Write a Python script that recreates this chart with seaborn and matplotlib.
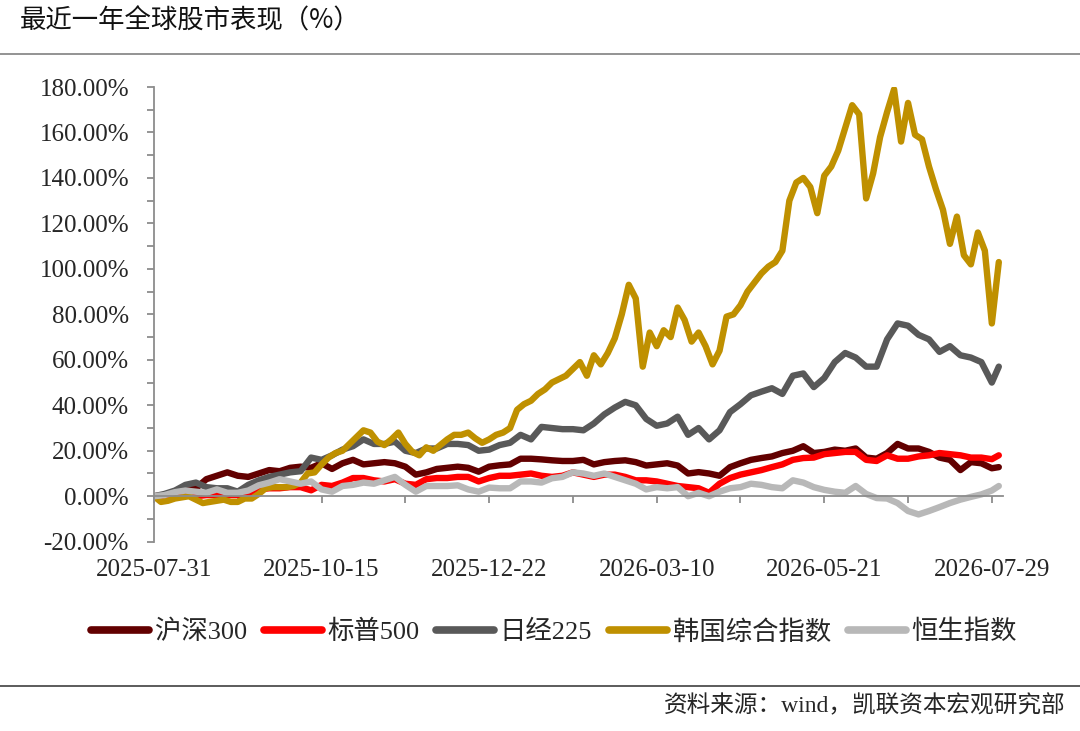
import numpy as np
import pandas as pd
import matplotlib
matplotlib.use("Agg")
import matplotlib.pyplot as plt
from matplotlib.lines import Line2D
from matplotlib.ticker import MultipleLocator, FuncFormatter
import seaborn as sns

# trading-day index of each sampled point
idx_step3 = list(range(0, 241, 3)) + [242]
idx_step2 = list(range(0, 243, 2))

date_labels = ["2025-07-31", "2025-10-15", "2025-12-22",
               "2026-03-10", "2026-05-21", "2026-07-29"]
date_label_pos = [0, 48, 96, 144, 192, 240]

series_names = ["沪深300", "标普500", "日经225", "韩国综合指数", "恒生指数"]
series_colors = ["#620000", "#FF0000", "#595959", "#BF9000", "#B8B8B8"]

hs300 = [0, 0.5, 1.5, 3, 3.5, 7.5, 9, 10.5, 9, 8.5,
         10, 11.5, 11, 12.5, 13, 12.5, 14.5, 12, 14.5, 16,
         14, 14.5, 15, 14.5, 13, 9.5, 10.5, 12, 12.5, 13,
         12.5, 10.8, 13, 13.6, 14, 16.5, 16.5, 16.2, 15.8, 15.5,
         15.5, 16, 14, 15, 15.5, 15.8, 15, 13.5, 14, 14.5,
         13.5, 10, 10.6, 10, 9, 12.8, 14.5, 16, 16.8, 17.5,
         19, 20, 22, 19, 19.5, 20.5, 20, 21, 17, 16.5,
         19, 23, 21, 21, 19.5, 17, 16, 11.5, 15, 14.5,
         12.3, 12.8]

spx500 = [0, -0.5, 0, 0.5, 0, 0.5, 0.5, 0.5, 0.5, 1,
          3, 3.5, 3.5, 4, 4, 2.6, 5, 4.5, 6, 8,
          8, 7, 6.5, 7.5, 5.5, 5, 7.5, 8, 8, 8.5,
          8.5, 6.5, 8, 9, 9, 9.5, 10, 9, 8.5, 9,
          10.5, 9.5, 8.5, 9.5, 9.5, 8.5, 7, 7, 6.5, 5.5,
          4.5, 4, 3.5, 1.5, 5.5, 8, 9.5, 10.5, 11.5, 12.8,
          14, 16, 16.8, 17, 18.5, 19, 19.5, 19.5, 16, 15.5,
          18, 16.5, 16.5, 17.5, 18, 19, 18.5, 18, 17, 17,
          16.3, 18]

nikkei225 = [0, 1, 2.5, 5, 6, 4, 3.5, 3.5, 2, 5,
             7, 8.5, 9.5, 10.5, 11, 17, 16, 18, 20.5, 22,
             25, 23, 23, 24, 20, 19, 21, 21, 23, 23,
             22.5, 20, 20.5, 22.5, 23.5, 27, 25, 30.5, 30, 29.5,
             29.5, 29, 32, 36, 39, 41.5, 40, 34, 31, 32,
             35, 27, 30, 25, 29, 37, 40.5, 44.4, 46, 47.5,
             45, 53, 54, 48, 52, 59, 63, 61, 57, 57,
             69, 76, 75, 71, 69, 63.5, 66, 62, 61, 59,
             50, 57]

kospi = [0, -2.5, -2, -1, -0.5, 0, -1.5, -3, -2.5, -2,
         -1.5, -2.5, -2.5, -1, -1, 1, 3.5, 4, 4, 4,
         4.5, 6, 10, 10.5, 14, 17, 19, 20, 23, 26,
         29, 28, 24, 22.5, 25, 28, 23, 19.5, 18, 21.5,
         20, 22.5, 25, 27, 27, 28, 25.5, 23.5, 25, 27,
         28, 30, 38, 40.5, 42, 45, 47, 50, 51.5, 53,
         56, 59, 53, 62, 58, 63, 69.5, 80, 93, 87,
         57, 72, 66, 73, 70, 83, 77.5, 68, 72, 66,
         58, 64, 79, 80, 84, 90, 94, 98, 101, 103,
         108, 130, 138, 140, 136, 124.5, 141, 145, 152, 162,
         172, 168, 131, 142, 158, 169, 179, 156, 173, 159,
         157, 145, 135, 126, 111, 123, 106, 102, 116, 108,
         76, 103]

hsi = [0, 0.5, 1.8, 2.5, 2, 1.5, 3, 1.5, 1.5, 2.5,
       4.8, 6, 7.5, 6.5, 5.5, 6.5, 3, 2, 4.5, 5,
       6, 5.5, 7, 8.5, 5, 2, 4.5, 4.5, 4.5, 4.8,
       3, 2, 3.8, 3.5, 3.5, 6.5, 6.5, 6, 7.9, 8.5,
       10.5, 10, 9, 10, 8.5, 7, 5.5, 3, 4, 3.5,
       4, 0, 1.5, 0, 2, 3.5, 4, 5.5, 5, 4,
       3.5, 7, 6, 4, 2.8, 2, 1.5, 4.5, 1, -0.8,
       -1, -3, -6.5, -8, -6.5, -4.8, -3, -1.5, -0.3, 0.8,
       2.5, 4.5]

series_values = [hs300, spx500, nikkei225, kospi, hsi]
series_index = [idx_step3, idx_step3, idx_step3, idx_step2, idx_step3]

sns.set_style("ticks")
plt.rcParams["font.family"] = ["Liberation Serif", "Noto Sans CJK SC", "DejaVu Sans"]

fig = plt.figure(figsize=(10.8, 7.31), dpi=100)
ax = fig.add_axes([154 / 1080, 1 - 541.7 / 731, (1003 - 154) / 1080, (541.7 - 87) / 731])

# Excel draws later series on top
for name, col, xs, ys in zip(series_names, series_colors, series_index, series_values):
    sns.lineplot(x=xs, y=ys, ax=ax, color=col, lw=4.6, label=name)

ax.set_xlim(0, 243.2)
ax.set_ylim(-20, 180)

axis_grey = "#8C8C8C"
for side in ["top", "right"]:
    ax.spines[side].set_visible(False)
ax.spines["bottom"].set_position(("data", 0))
for side in ["left", "bottom"]:
    ax.spines[side].set_color(axis_grey)
    ax.spines[side].set_linewidth(1.3)

ax.yaxis.set_major_locator(MultipleLocator(20))
ax.yaxis.set_minor_locator(MultipleLocator(10))
ax.yaxis.set_major_formatter(FuncFormatter(lambda v, p: f"{v:.2f}%"))
ax.set_xticks(date_label_pos)
ax.set_xticklabels(date_labels)
ax.xaxis.set_minor_locator(MultipleLocator(24))

ax.tick_params(axis="y", which="both", direction="out", length=5, width=1.3,
               color=axis_grey, labelsize=18, pad=13)
ax.tick_params(axis="x", which="both", direction="out", length=5, width=1.3,
               color=axis_grey, labelsize=18, pad=40)
ax.set_xlabel("")
ax.set_ylabel("")

ax.get_legend().remove()
handles, labels = ax.get_legend_handles_labels()
leg = fig.legend(handles, labels, loc="center", bbox_to_anchor=(554 / 1080, 1 - 632 / 731),
                 ncol=5, frameon=False, fontsize=19, handlelength=2.2,
                 handletextpad=0.2, columnspacing=0.65)
for ln in leg.get_lines():
    ln.set_linewidth(5.5)

# header / footer
fig.text(20 / 1080, 1 - 21 / 731, "最近一年全球股市表现（%）", fontsize=19,
         ha="left", va="center", color="#111111", family=["Noto Sans CJK SC", "DejaVu Sans"])
fig.add_artist(Line2D([0, 1], [1 - 54 / 731] * 2, transform=fig.transFigure,
                      color="#808080", lw=1.2))
fig.add_artist(Line2D([0, 1], [1 - 686 / 731] * 2, transform=fig.transFigure,
                      color="#404040", lw=1.2))
fig.text(1066 / 1080, 1 - 706 / 731, "资料来源：wind，凯联资本宏观研究部", fontsize=17,
         ha="right", va="center")

fig.savefig("out.png", dpi=100)
